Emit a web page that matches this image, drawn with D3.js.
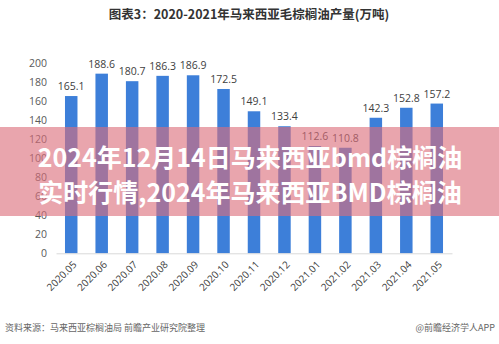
<!DOCTYPE html>
<html>
<head>
<meta charset="utf-8">
<script src="https://cdn.jsdelivr.net/npm/d3@7"></script>
<style>
html,body{margin:0;padding:0;background:#fff;}
svg{display:block;}
</style>
</head>
<body>
<svg id="chart" width="499" height="344"></svg>
<script>
const categories = ["2020.05","2020.06","2020.07","2020.08","2020.09","2020.10","2020.11","2020.12","2021.01","2021.02","2021.03","2021.04","2021.05"];
const production = [165.1,188.6,180.7,186.3,186.9,172.5,149.1,133.4,112.6,110.8,142.3,152.8,157.2];
const yTicks = [0,20,40,60,80,100,120,140,160,180,200];
const titleText = "图表3：2020-2021年马来西亚毛棕榈油产量(万吨)";
const sourceText = "资料来源：马来西亚棕榈油局 前瞻产业研究院整理";
const brandText = "@前瞻经济学人APP";
const overlayLines = ["2024年12月14日马来西亚bmd棕榈油","实时行情,2024年马来西亚BMD棕榈油"];

const svg = d3.select("#chart");
const cjk = "'Noto Sans CJK SC','Noto Sans',sans-serif";
const latin = "'Open Sans','Liberation Sans',sans-serif";

const x = d3.scaleBand().domain(categories).range([56, 452]).paddingInner(0.59).paddingOuter(0.295);
const y = d3.scaleLinear().domain([0, 200]).range([253.3, 62.8]);

// title
svg.append("text").attr("x", 249).attr("y", 19).attr("text-anchor", "middle")
  .attr("font-family", cjk).attr("font-weight", "bold").attr("font-size", 12.5)
  .attr("fill", "#333").text(titleText);

// y axis (labels only)
const yAxis = d3.axisLeft(y).tickValues(yTicks).tickSize(0).tickPadding(0);
const gy = svg.append("g").attr("transform", "translate(47,0)").call(yAxis);
gy.select(".domain").remove();
gy.selectAll("text").attr("font-family", latin).attr("font-size", 10.5).attr("fill", "#595959");

// bars
svg.append("g").selectAll("rect").data(production).join("rect")
  .attr("x", (d, i) => x(categories[i]))
  .attr("y", d => y(d))
  .attr("width", x.bandwidth())
  .attr("height", d => y(0) - y(d))
  .attr("fill", "#3d7fd9");

// value labels
svg.append("g").selectAll("text").data(production).join("text")
  .attr("x", (d, i) => x(categories[i]) + x.bandwidth() / 2)
  .attr("y", d => y(d) - 6)
  .attr("text-anchor", "middle")
  .attr("font-family", latin).attr("font-size", 10.5).attr("fill", "#404040")
  .text(d => d.toFixed(1));

// x axis
const xAxis = d3.axisBottom(x).tickSize(0).tickPadding(0);
const gx = svg.append("g").attr("transform", `translate(0,${y(0)})`).call(xAxis);
gx.select(".domain").attr("stroke", "#d9d9d9").attr("stroke-width", 1);
gx.selectAll("text")
  .attr("font-family", latin).attr("font-size", 10).attr("fill", "#404040")
  .attr("text-anchor", "end")
  .attr("dy", null).attr("y", 0)
  .attr("transform", "translate(6,12) rotate(-45)");

// overlay band
svg.append("rect").attr("x", 0).attr("y", 127).attr("width", 499).attr("height", 89)
  .attr("fill", "rgb(220,110,122)").attr("fill-opacity", 0.62);

svg.append("g").selectAll("text").data(overlayLines).join("text")
  .attr("x", 250).attr("y", (d, i) => 167 + i * 35)
  .attr("text-anchor", "middle")
  .attr("font-family", cjk).attr("font-weight", "bold").attr("font-size", 25)
  .attr("fill", "#fff").text(d => d);

// footer
svg.append("text").attr("x", 5).attr("y", 331)
  .attr("font-family", cjk).attr("font-size", 9).attr("fill", "#666").text(sourceText);
svg.append("text").attr("x", 495).attr("y", 331).attr("text-anchor", "end")
  .attr("font-family", cjk).attr("font-size", 9).attr("fill", "#666").text(brandText);
</script>
</body>
</html>
